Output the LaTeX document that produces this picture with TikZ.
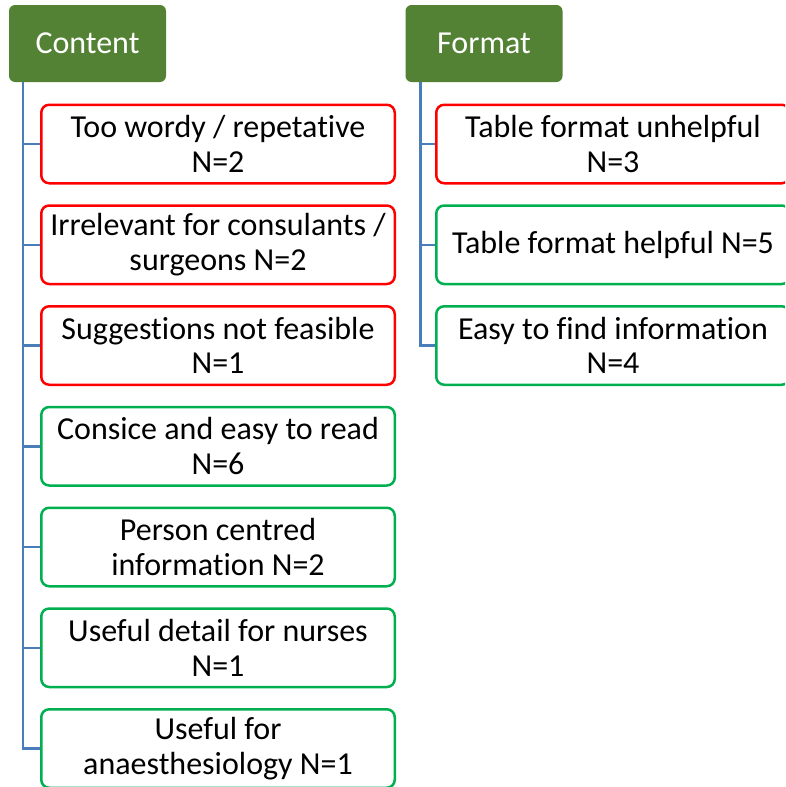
\documentclass[tikz,border=0pt]{standalone}
\usepackage{fontspec}
\setmainfont{Carlito}[Ligatures=NoCommon]

\definecolor{hdgreen}{HTML}{548235}
\definecolor{negred}{HTML}{FF0000}
\definecolor{posgreen}{HTML}{00B050}
\definecolor{treeblue}{HTML}{4A7EBB}

\begin{document}
\begin{tikzpicture}[x=1pt, y=-1pt, font=\fontsize{32}{34.5}\selectfont,
  head/.style={rectangle, rounded corners=6pt, fill=hdgreen, text=white,
    minimum width=157pt, minimum height=77pt, inner sep=0pt},
  item/.style={rectangle, rounded corners=8pt, line width=2.5pt, fill=white,
    minimum width=353.5pt, minimum height=78.5pt, inner sep=0pt, align=center},
  negbox/.style={item, draw=negred},
  posbox/.style={item, draw=posgreen},
  tree/.style={draw=treeblue, line width=2.5pt}]
  \clip (0,0) rectangle (785,787);

  % headers
  \node[head] (content) at (87.5,43.5) {Content};
  \node[head] (format)  at (484,43.5)  {Format};

  % Content
  \node[negbox] (c1) at (218,144)    {Too wordy / repetative\\N=2};
  \node[negbox] (c2) at (218,244.75) {Irrelevant for consulants /\\surgeons N=2};
  \node[negbox] (c3) at (218,345.5)  {Suggestions not feasible\\N=1};
  \node[posbox] (c4) at (218,446.25) {Consice and easy to read\\N=6};
  \node[posbox] (c5) at (218,547)    {Person centred\\information N=2};
  \node[posbox] (c6) at (218,647.75) {Useful detail for nurses\\N=1};
  \node[posbox] (c7) at (218,748.5)  {Useful for\\anaesthesiology N=1};

  % Format
  \node[negbox] (f1) at (613,144)    {Table format unhelpful\\N=3};
  \node[posbox] (f2) at (613,244.75) {Table format helpful N=5};
  \node[posbox] (f3) at (613,345.5)  {Easy to find information\\N=4};

  % trunks
  \coordinate (ctrunk) at ([xshift=14pt]content.south west);
  \coordinate (ftrunk) at ([xshift=15pt]format.south west);

  \draw[tree] (ctrunk) |- (c1.west);
  \draw[tree] (ctrunk) |- (c2.west);
  \draw[tree] (ctrunk) |- (c3.west);
  \draw[tree] (ctrunk) |- (c4.west);
  \draw[tree] (ctrunk) |- (c5.west);
  \draw[tree] (ctrunk) |- (c6.west);
  \draw[tree] (ctrunk) |- (c7.west);

  \draw[tree] (ftrunk) |- (f1.west);
  \draw[tree] (ftrunk) |- (f2.west);
  \draw[tree] (ftrunk) |- (f3.west);
\end{tikzpicture}
\end{document}
